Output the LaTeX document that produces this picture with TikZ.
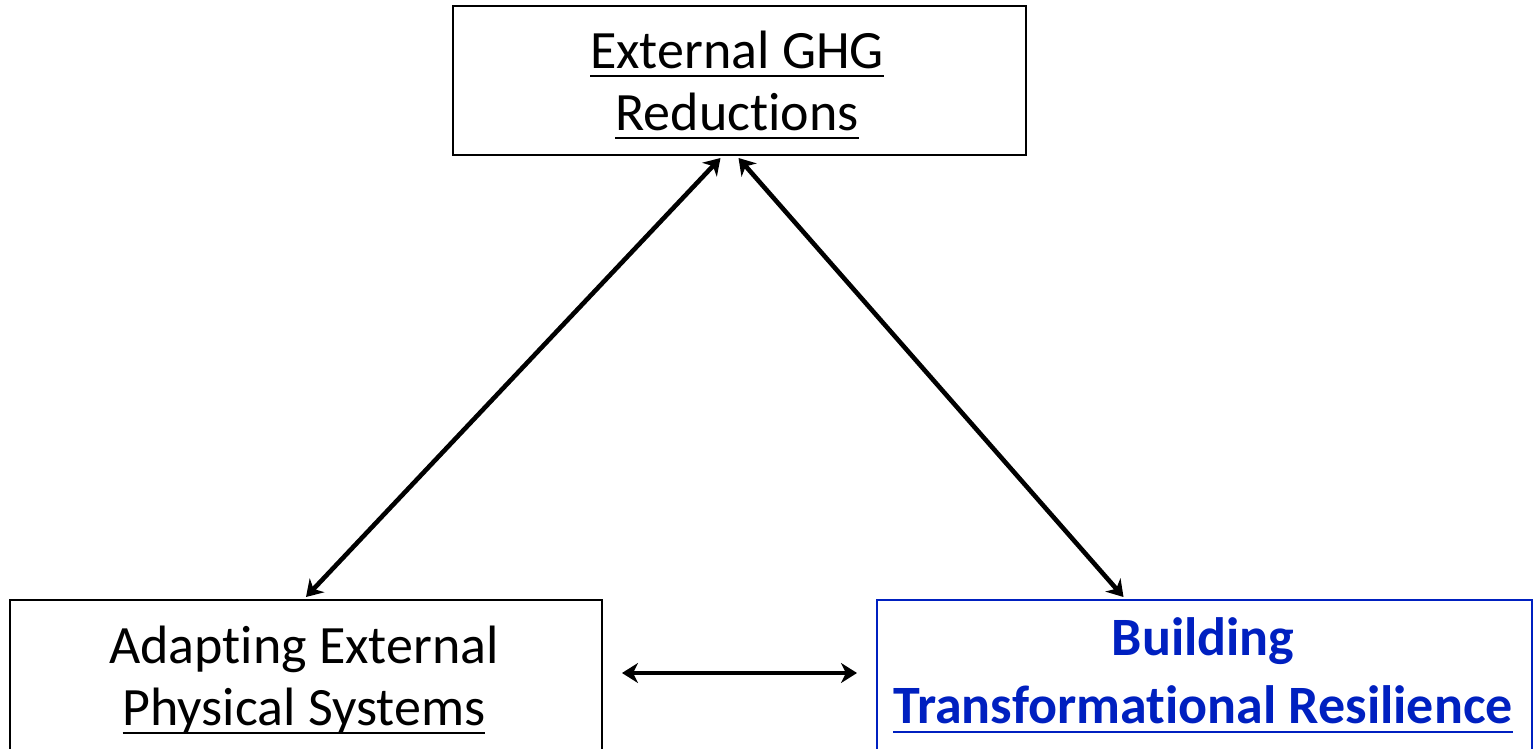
\documentclass[tikz,border=0pt]{standalone}
\usepackage{fontspec}
\setmainfont{Carlito}[Ligatures=NoCommon]
\usetikzlibrary{arrows.meta}
\definecolor{resblue}{RGB}{0,32,192}
\newsavebox{\ulinbox}
\newcommand{\ulin}[1]{\sbox{\ulinbox}{#1}%
  \rlap{\rule[-0.17em]{\wd\ulinbox}{1pt}}\usebox{\ulinbox}}
\tikzstyle{plainbox}=[rectangle,draw=black,line width=1pt,
                      inner sep=0pt]
\tikzstyle{bluebox}=[plainbox,draw=resblue]
\tikzstyle{boxtext}=[align=center,inner sep=0pt,
                     font=\fontsize{27pt}{31pt}\selectfont]
\tikzstyle{link}=[line width=2.3pt,
                  {Stealth[length=8pt,width=10pt,inset=2.5pt]}-{Stealth[length=8pt,width=10pt,inset=2.5pt]}]

\begin{document}
\begin{tikzpicture}[x=0.5pt,y=-0.5pt]
    \useasboundingbox (0,0) rectangle (1537,749);
    \clip (0,0) rectangle (1537,749);
    % the three boxes
    \node (ghg)   at (739.5, 80.5) [plainbox,minimum width=286.5pt,minimum height=74.5pt]{};
    \node (adapt) at (306,   680)  [plainbox,minimum width=296pt,minimum height=80pt]{};
    \node (build) at (1204.5,680)  [bluebox,minimum width=327.5pt,minimum height=80pt]{};
    % their texts
    \node (ghgtxt)   at (737, 85)  [boxtext]{\ulin{External GHG}\\\ulin{Reductions}};
    \node (adapttxt) at (304, 680) [boxtext]{Adapting External\\\ulin{Physical Systems}};
    \node (buildtxt) at (1203,675) [boxtext,text=resblue,font=\fontsize{27pt}{34pt}\selectfont\bfseries]
          {Building\\\ulin{Transformational Resilience}};
    % links
    \draw[link] ([xshift=-9.5pt,yshift=-1pt]ghg.south) -- ([yshift=1pt]adapt.north);
    \draw[link] ([xshift=-0.5pt,yshift=-1pt]ghg.south) -- ([xshift=-40.5pt,yshift=1pt]build.north);
    \draw[link] ([xshift=9.5pt,yshift=3.5pt]adapt.east) -- ([xshift=-9.5pt,yshift=3.5pt]build.west);
  \end{tikzpicture}
\end{document}
